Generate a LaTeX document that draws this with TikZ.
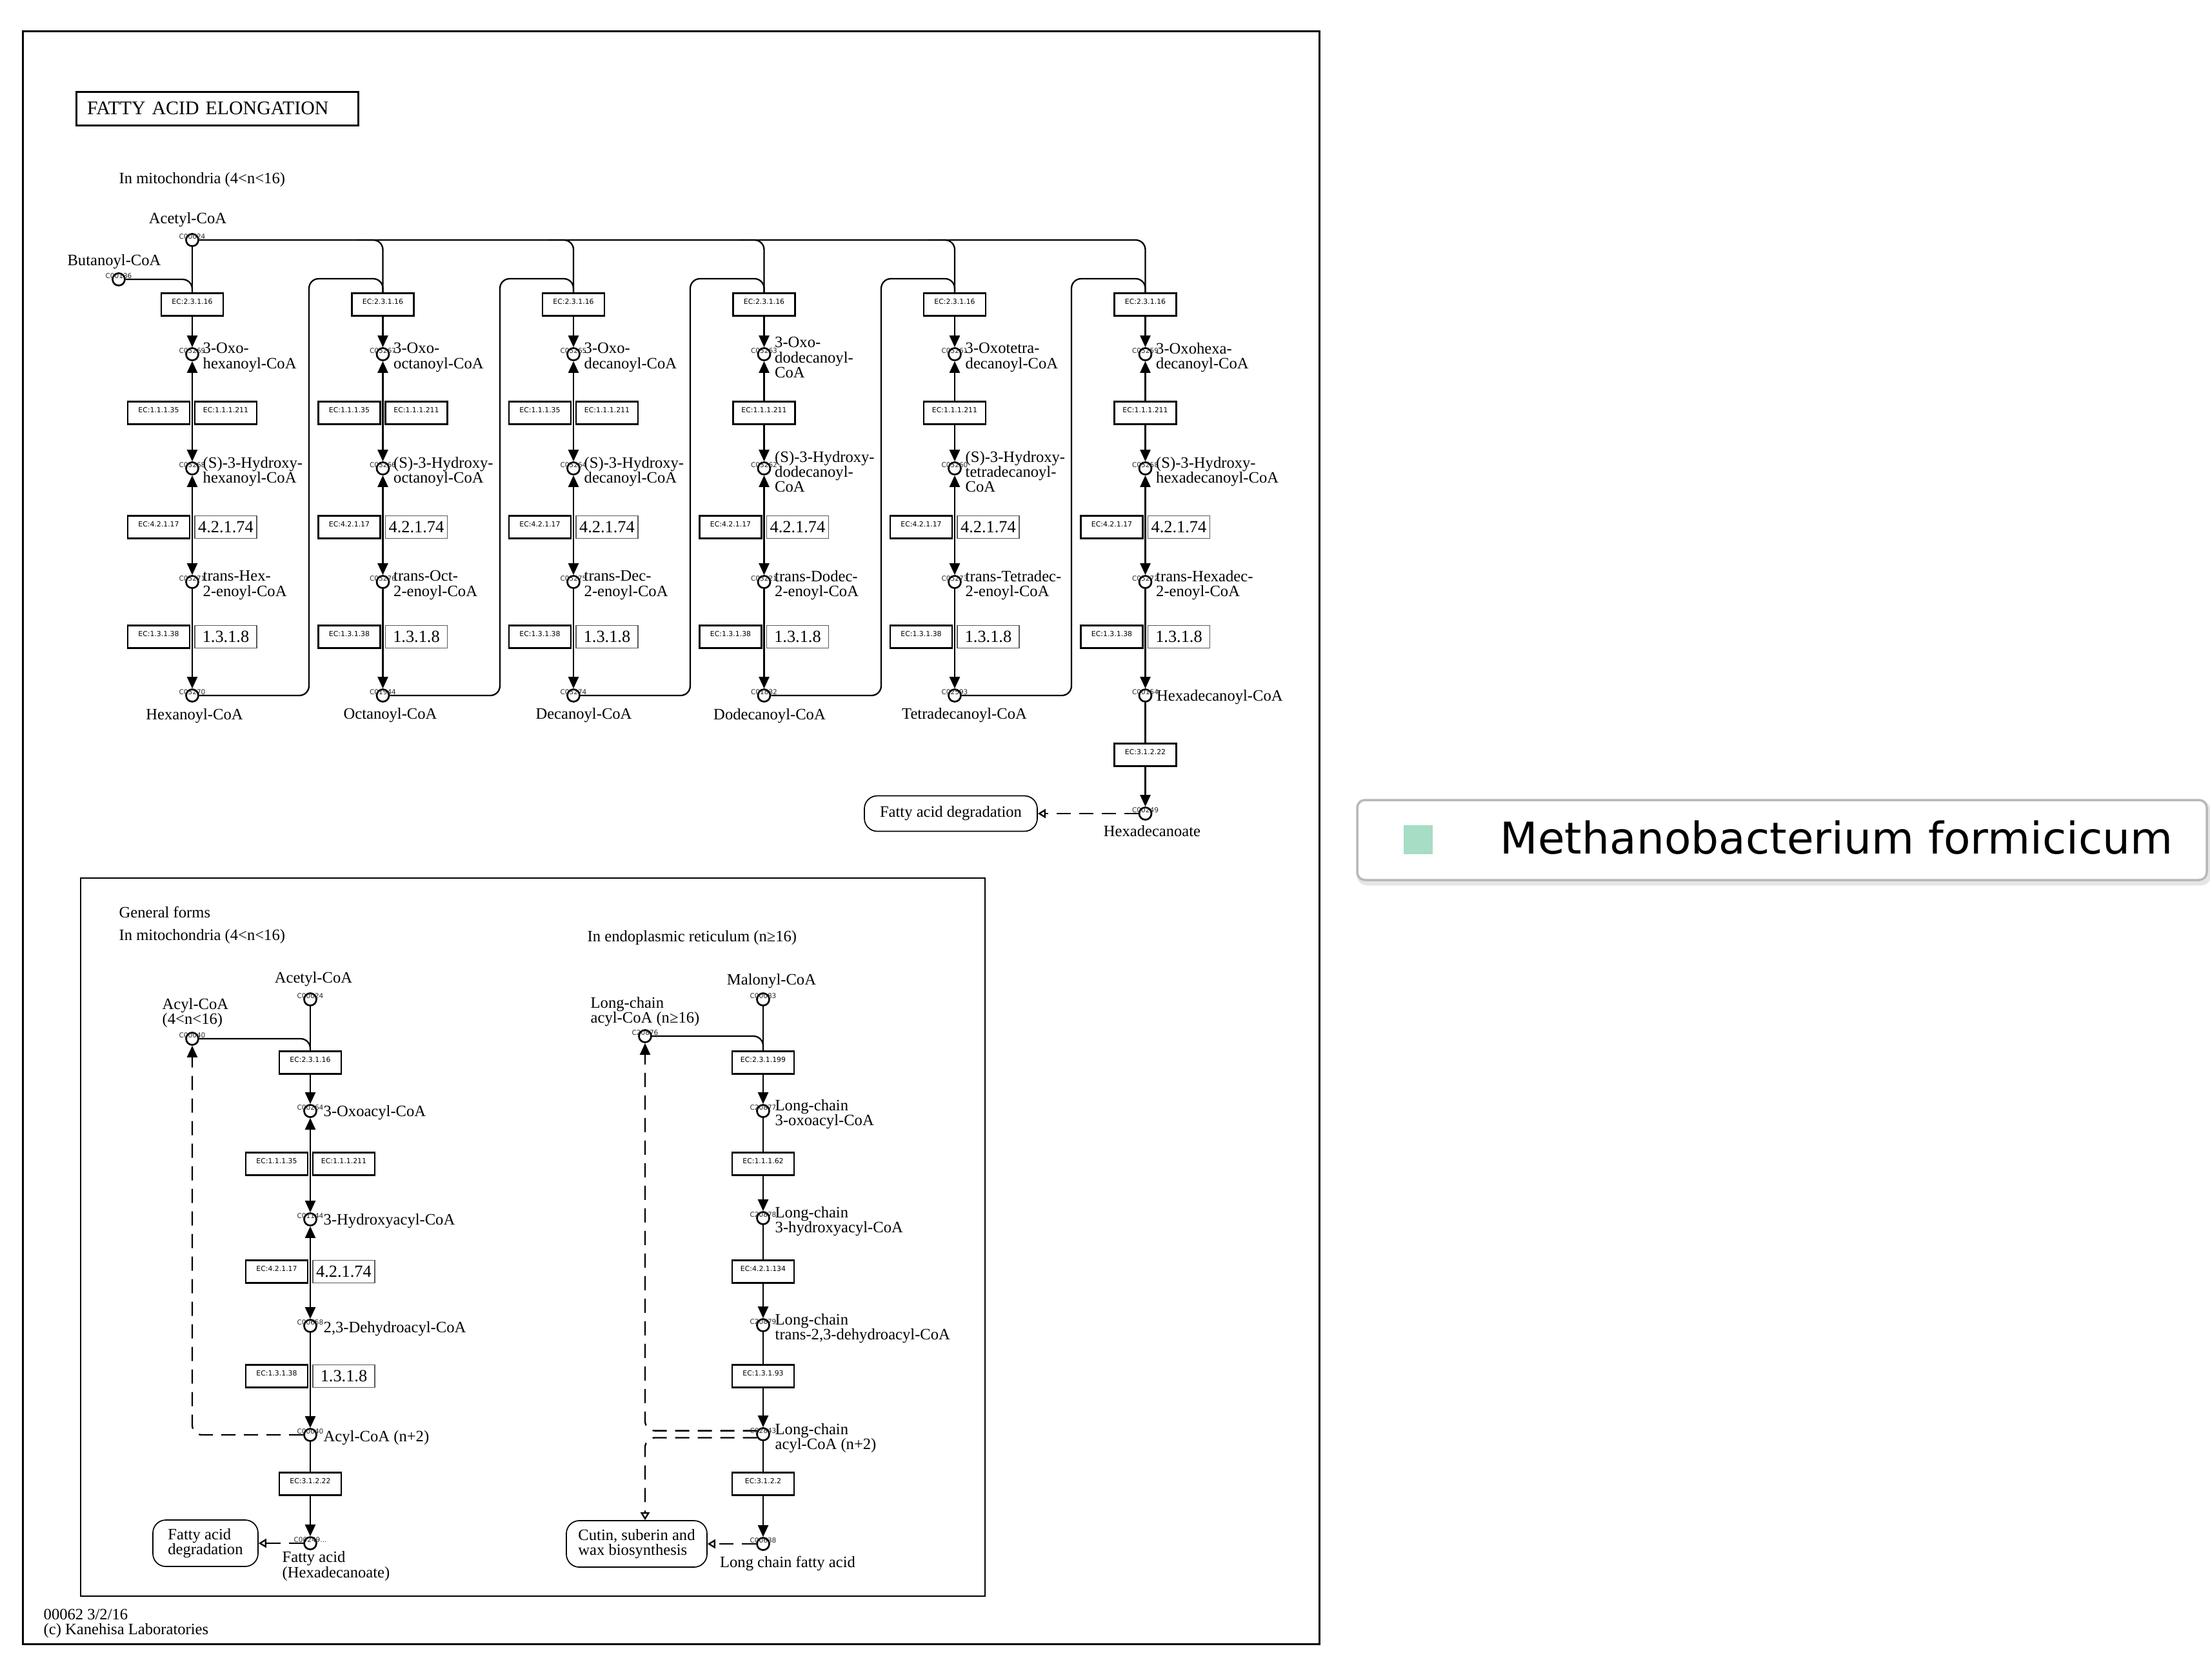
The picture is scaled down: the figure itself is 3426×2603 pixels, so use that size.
\documentclass[tikz,border=0pt]{standalone}
\usepackage{fontspec}
\setmainfont{Liberation Serif}
\newfontfamily\ecf{DejaVu Sans}
\usetikzlibrary{arrows.meta}
\definecolor{mint}{RGB}{166,221,196}
\newcommand\kcol[2]{%
 \node[ec] (e#1) at (#2,472) {EC:2.3.1.16};
 \node[cpd] (o#1) at (#2,549) {};
 \node[cpd] (h#1) at (#2,726) {};
 \node[ec] (c#1a) at (#2-52,817) {EC:4.2.1.17};
 \node[num] (c#1b) at (#2+52,817) {4.2.1.74};
 \node[cpd] (t#1) at (#2,902) {};
 \node[ec] (d#1a) at (#2-52,987) {EC:1.3.1.38};
 \node[num] (d#1b) at (#2+52,987) {1.3.1.8};
 \node[cpd] (a#1) at (#2,1078) {};
 \draw[fa] (e#1) -- (o#1);
 \draw[fb] (h#1) -- (t#1);
 \draw[fa] (t#1) -- (a#1);
}
\newcommand\klbl[2]{\node[lbl,anchor=west] (#1-l) at ([xshift=1.6mm,yshift=-0.5mm]#1.center) {#2};}
\newcommand\kcid[2]{\node[cid] (#1-c) at ([yshift=0.5mm]#1.center) {#2};}
\begin{document}
\begin{tikzpicture}[x=0.1mm,y=-0.1mm,
  conn/.style={line width=0.23mm},
  fa/.style={conn,-{Triangle[length=1.8mm,width=1.6mm]}},
  fb/.style={conn,{Triangle[length=1.8mm,width=1.6mm]}-{Triangle[length=1.8mm,width=1.6mm]}},
  dsh/.style={conn,dash pattern=on 2.2mm off 1.3mm},
  oa/.style={dsh,-{Triangle[open,length=1.2mm,width=1.4mm]}},
  cpd/.style={circle,draw,line width=0.27mm,minimum size=1.9mm,inner sep=0pt,fill=white},
  ec/.style={draw,line width=0.27mm,minimum width=9.6mm,minimum height=3.5mm,inner sep=0pt,fill=white,font=\ecf\fontsize{3.1pt}{3.7pt}\selectfont,text height=1.2mm,text depth=1.4mm},
  num/.style={draw=black!65,line width=0.17mm,minimum width=9.6mm,minimum height=3.5mm,inner sep=0pt,fill=white,font=\fontsize{7.5pt}{8pt}\selectfont},
  lbl/.style={font=\fontsize{7pt}{6.6pt}\selectfont,align=left,inner sep=0pt},
  cid/.style={font=\ecf\fontsize{3pt}{3.4pt}\selectfont,inner sep=0pt,text=black!85},
  mapbox/.style={draw,line width=0.17mm,rounded corners=2mm,font=\fontsize{7pt}{6.6pt}\selectfont,align=left,inner sep=0pt,fill=white}
]
\useasboundingbox (0,0) rectangle (3426,2603);
\fill[white] (0,0) rectangle (3426,2603);
% frames
\draw[line width=0.3mm] (35,48) rectangle (2045,2548);
\node[draw,line width=0.3mm,minimum width=43.7mm,minimum height=5.2mm,inner sep=0pt,text width=40.3mm,align=left,font=\fontsize{8.5pt}{9pt}\selectfont] (title) at (336.5,168) {FATTY ACID ELONGATION};
\node[lbl,anchor=west] (mito) at (184,279) {In mitochondria (4<n<16)};

% ---------- top section ----------
\node[cpd] (acet) at (298,372) {};
\node[lbl] (acet-l) at (291,341) {Acetyl-CoA};
\node[cpd] (buty) at (184,433) {};
\node[lbl] (buty-l) at (177,406) {Butanoyl-CoA};

\kcol{1}{298}
\kcol{2}{593.5}
\kcol{3}{889}
\kcol{4}{1184.5}
\kcol{5}{1480}
\kcol{6}{1775.5}

% hydroxy dehydrogenase boxes
\node[ec] (b1a) at (298-52,640) {EC:1.1.1.35};
\node[ec] (b1b) at (298+52,640) {EC:1.1.1.211};
\draw[fb] (o1) -- (h1);
\node[ec] (b2a) at (593.5-52,640) {EC:1.1.1.35};
\node[ec] (b2b) at (593.5+52,640) {EC:1.1.1.211};
\draw[fb] (o2) -- (h2);
\node[ec] (b3a) at (889-52,640) {EC:1.1.1.35};
\node[ec] (b3b) at (889+52,640) {EC:1.1.1.211};
\draw[fb] (o3) -- (h3);
\node[ec] (b4) at (1184.5,640) {EC:1.1.1.211};
\draw[fa] (b4) -- (o4); \draw[fa] (b4) -- (h4);
\node[ec] (b5) at (1480,640) {EC:1.1.1.211};
\draw[fa] (b5) -- (o5); \draw[fa] (b5) -- (h5);
\node[ec] (b6) at (1775.5,640) {EC:1.1.1.211};
\draw[fa] (b6) -- (o6); \draw[fa] (b6) -- (h6);

% acetyl-CoA feed lines
\draw[conn] (acet) -- (e1);
\draw[conn,rounded corners=1.5mm] (acet.east) -| (e6.north);
\coordinate (j2) at (593.5-40,372);
\coordinate (j3) at (889-40,372);
\coordinate (j4) at (1184.5-40,372);
\coordinate (j5) at (1480-40,372);
\draw[conn,rounded corners=1.5mm] (j2) -| (e2.north);
\draw[conn,rounded corners=1.5mm] (j3) -| (e3.north);
\draw[conn,rounded corners=1.5mm] (j4) -| (e4.north);
\draw[conn,rounded corners=1.5mm] (j5) -| (e5.north);
\draw[conn,rounded corners=1.5mm] (buty.east) -| (e1.north);

% return lines
\coordinate (r1) at (479,432);
\coordinate (r2) at (775,432);
\coordinate (r3) at (1070,432);
\coordinate (r4) at (1366,432);
\coordinate (r5) at (1661,432);
\draw[conn,rounded corners=1.5mm] (a1.east) -| (r1) -| (e2.north);
\draw[conn,rounded corners=1.5mm] (a2.east) -| (r2) -| (e3.north);
\draw[conn,rounded corners=1.5mm] (a3.east) -| (r3) -| (e4.north);
\draw[conn,rounded corners=1.5mm] (a4.east) -| (r4) -| (e5.north);
\draw[conn,rounded corners=1.5mm] (a5.east) -| (r5) -| (e6.north);

% column 6 end
\node[ec] (e6t) at (1775.5,1170) {EC:3.1.2.22};
\node[cpd] (hxa) at (1775.5,1261) {};
\draw[conn] (a6) -- (e6t);
\draw[fa] (e6t) -- (hxa);
\node[lbl] (hxa-l) at (1786,1288) {Hexadecanoate};
\node[mapbox,minimum width=26.8mm,minimum height=5.5mm] (fad1) at (1474,1261) {Fatty acid degradation};
\draw[oa] (hxa) -- (fad1);

% compound ids (top)
\kcid{acet}{C00024}
\kcid{buty}{C00136}
\kcid{o1}{C05269} \kcid{h1}{C05268} \kcid{t1}{C05271} \kcid{a1}{C05270}
\kcid{o2}{C05267} \kcid{h2}{C05266} \kcid{t2}{C05276} \kcid{a2}{C01944}
\kcid{o3}{C05265} \kcid{h3}{C05264} \kcid{t3}{C05275} \kcid{a3}{C05274}
\kcid{o4}{C05263} \kcid{h4}{C05262} \kcid{t4}{C03221} \kcid{a4}{C01832}
\kcid{o5}{C05261} \kcid{h5}{C05260} \kcid{t5}{C05273} \kcid{a5}{C02593}
\kcid{o6}{C05259} \kcid{h6}{C05258} \kcid{t6}{C05272} \kcid{a6}{C00154}
\kcid{hxa}{C00249}

% compound labels (top)
\klbl{o1}{3-Oxo-\\hexanoyl-CoA}
\klbl{h1}{(S)-3-Hydroxy-\\hexanoyl-CoA}
\klbl{t1}{trans-Hex-\\2-enoyl-CoA}
\klbl{o2}{3-Oxo-\\octanoyl-CoA}
\klbl{h2}{(S)-3-Hydroxy-\\octanoyl-CoA}
\klbl{t2}{trans-Oct-\\2-enoyl-CoA}
\klbl{o3}{3-Oxo-\\decanoyl-CoA}
\klbl{h3}{(S)-3-Hydroxy-\\decanoyl-CoA}
\klbl{t3}{trans-Dec-\\2-enoyl-CoA}
\klbl{o4}{3-Oxo-\\dodecanoyl-\\CoA}
\klbl{h4}{(S)-3-Hydroxy-\\dodecanoyl-\\CoA}
\klbl{t4}{trans-Dodec-\\2-enoyl-CoA}
\klbl{o5}{3-Oxotetra-\\decanoyl-CoA}
\klbl{h5}{(S)-3-Hydroxy-\\tetradecanoyl-\\CoA}
\klbl{t5}{trans-Tetradec-\\2-enoyl-CoA}
\klbl{o6}{3-Oxohexa-\\decanoyl-CoA}
\klbl{h6}{(S)-3-Hydroxy-\\hexadecanoyl-CoA}
\klbl{t6}{trans-Hexadec-\\2-enoyl-CoA}
\node[lbl,anchor=west] (a6-l) at ([xshift=1.7mm,yshift=-0.3mm]a6.center) {Hexadecanoyl-CoA};
\node[lbl] (a1-l) at (301.5,1110) {Hexanoyl-CoA};
\node[lbl] (a2-l) at (605,1109) {Octanoyl-CoA};
\node[lbl] (a3-l) at (905,1109) {Decanoyl-CoA};
\node[lbl] (a4-l) at (1193,1110) {Dodecanoyl-CoA};
\node[lbl] (a5-l) at (1495,1109) {Tetradecanoyl-CoA};

% ---------- general forms ----------
\draw[line width=0.25mm] (125,1361) rectangle (1527,2474);
\node[lbl,anchor=west] (gen) at (184,1414) {General forms};
\node[lbl,anchor=west] (gmito) at (184,1452) {In mitochondria (4<n<16)};
\node[lbl,anchor=west] (ger) at (910,1454) {In endoplasmic reticulum (n≥16)};

% mitochondria general
\node[cpd] (gac) at (481,1549) {};
\node[lbl] (gac-l) at (486,1518) {Acetyl-CoA};
\node[cpd] (gacy) at (298,1610) {};
\node[lbl,anchor=west] (gacy-l) at (251,1570) {Acyl-CoA\\(4<n<16)};
\node[ec] (ge1) at (481,1647) {EC:2.3.1.16};
\node[cpd] (gox) at (481,1722) {};
\node[ec] (gb1) at (429,1804) {EC:1.1.1.35};
\node[ec] (gb2) at (533,1804) {EC:1.1.1.211};
\node[cpd] (ghy) at (481,1890) {};
\node[ec] (gc1) at (429,1971) {EC:4.2.1.17};
\node[num] (gc2) at (533,1971) {4.2.1.74};
\node[cpd] (gde) at (481,2055) {};
\node[ec] (gd1) at (429,2133) {EC:1.3.1.38};
\node[num] (gd2) at (533,2133) {1.3.1.8};
\node[cpd] (gan) at (481,2224) {};
\node[ec] (ge2) at (481,2300) {EC:3.1.2.22};
\node[cpd] (gfa) at (481,2392) {};
\node[mapbox,minimum width=16.3mm,minimum height=7.2mm] (gfad) at (318.5,2392) {Fatty acid\\degradation};
\node[lbl,anchor=west] (gox-l) at (501,1725) {3-Oxoacyl-CoA};
\node[lbl,anchor=west] (ghy-l) at (501,1893) {3-Hydroxyacyl-CoA};
\node[lbl,anchor=west] (gde-l) at (501,2060) {2,3-Dehydroacyl-CoA};
\node[lbl,anchor=west] (gan-l) at (501,2229) {Acyl-CoA (n+2)};
\node[lbl,anchor=north west] (gfa-l) at (437,2404) {Fatty acid\\(Hexadecanoate)};
\draw[conn,rounded corners=1.5mm] (gacy.east) -| (ge1.north);
\draw[conn] (gac) -- (ge1);
\draw[fa] (ge1) -- (gox);
\draw[fb] (gox) -- (ghy);
\draw[fb] (ghy) -- (gde);
\draw[fa] (gde) -- (gan);
\draw[conn] (gan) -- (ge2);
\draw[fa] (ge2) -- (gfa);
\draw[oa] (gfa) -- (gfad);
\draw[dsh,rounded corners=1.5mm,-{Triangle[length=1.8mm,width=1.6mm]}] (gan.west) -| (gacy.south);
\kcid{gac}{C00024} \kcid{gacy}{C00040} \kcid{gox}{C00264} \kcid{ghy}{C01144}
\kcid{gde}{C00658} \kcid{gan}{C00040} \kcid{gfa}{C00249...}

% endoplasmic reticulum
\node[cpd] (mal) at (1183,1549) {};
\node[lbl] (mal-l) at (1196,1521) {Malonyl-CoA};
\node[cpd] (lc) at (1000,1606) {};
\node[lbl,anchor=west] (lc-l) at (915,1568) {Long-chain\\acyl-CoA (n≥16)};
\node[ec] (re1) at (1183,1647) {EC:2.3.1.199};
\node[cpd] (lox) at (1183,1722) {};
\node[ec] (re2) at (1183,1804) {EC:1.1.1.62};
\node[cpd] (lhy) at (1183,1888) {};
\node[ec] (re3) at (1183,1971) {EC:4.2.1.134};
\node[cpd] (ltr) at (1183,2054) {};
\node[ec] (re4) at (1183,2133) {EC:1.3.1.93};
\node[cpd] (lan) at (1183,2223) {};
\node[ec] (re5) at (1183,2300) {EC:3.1.2.2};
\node[cpd] (lfa) at (1183,2393) {};
\node[mapbox,minimum width=21.8mm,minimum height=7.2mm] (cut) at (987,2393) {Cutin, suberin and\\wax biosynthesis};
\node[lbl,anchor=west] (lox-l) at (1201,1727) {Long-chain\\3-oxoacyl-CoA};
\node[lbl,anchor=west] (lhy-l) at (1201,1893) {Long-chain\\3-hydroxyacyl-CoA};
\node[lbl,anchor=west] (ltr-l) at (1201,2059) {Long-chain\\trans-2,3-dehydroacyl-CoA};
\node[lbl,anchor=west] (lan-l) at (1201,2229) {Long-chain\\acyl-CoA (n+2)};
\node[lbl] (lfa-l) at (1221,2423) {Long chain fatty acid};
\draw[conn,rounded corners=1.5mm] (lc.east) -| (re1.north);
\draw[conn] (mal) -- (re1);
\draw[fa] (re1) -- (lox);
\draw[conn] (lox) -- (re2);
\draw[fa] (re2) -- (lhy);
\draw[conn] (lhy) -- (re3);
\draw[fa] (re3) -- (ltr);
\draw[conn] (ltr) -- (re4);
\draw[fa] (re4) -- (lan);
\draw[conn] (lan) -- (re5);
\draw[fa] (re5) -- (lfa);
\draw[oa] (lfa) -- (cut);
\draw[dsh,rounded corners=1.5mm,-{Triangle[length=1.8mm,width=1.6mm]}] (lan.150) -| (lc.south);
\draw[oa,rounded corners=1.5mm] (lan.210) -| (cut.north -| lc);
\kcid{mal}{C00083} \kcid{lc}{C20876} \kcid{lox}{C20877} \kcid{lhy}{C20878}
\kcid{ltr}{C20879} \kcid{lan}{C02843} \kcid{lfa}{C00638}

% footer
\node[lbl,anchor=north west] (foot) at (67,2493) {00062 3/2/16\\(c) Kanehisa Laboratories};

% legend
\draw[black!10,line width=0.7mm,rounded corners=1.2mm] (2107,1245) rectangle (3424,1369);
\draw[black!28,line width=0.35mm,rounded corners=1.2mm,fill=white] (2104,1240) rectangle (3421,1364);
\node[fill=mint,minimum size=4.5mm,inner sep=0pt] (sq) at (2198,1301) {};
\node[font=\ecf\fontsize{19.3pt}{22pt}\selectfont,anchor=base west,inner sep=0pt] (lg) at (2325,1323) {Methanobacterium formicicum};
\end{tikzpicture}
\end{document}
